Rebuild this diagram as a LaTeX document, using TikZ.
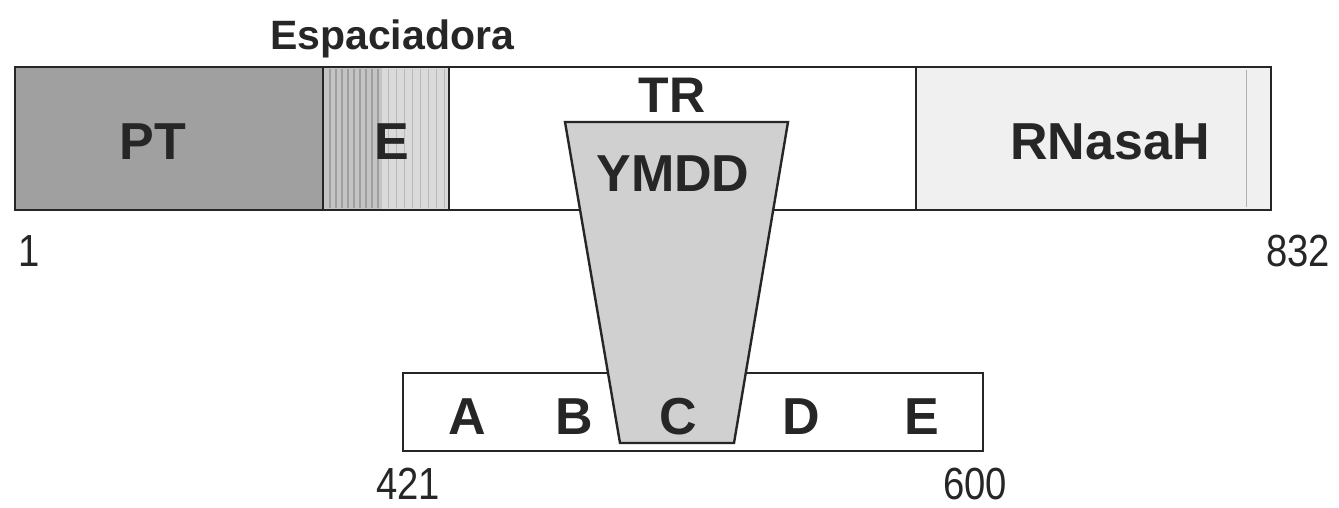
\documentclass[tikz,border=0pt]{standalone}
\usepackage{fontspec}
\setmainfont{Liberation Sans}
\definecolor{ptgray}{HTML}{A0A0A0}
\definecolor{egray}{HTML}{C4C4C4}
\definecolor{elight}{HTML}{DADADA}
\definecolor{rngray}{HTML}{F0F0F0}
\definecolor{trapgray}{HTML}{D0D0D0}
\definecolor{ink}{HTML}{262626}
\tikzset{
  box/.style={draw=ink, line width=2.4pt},
  biglabel/.style={font=\fontsize{52}{52}\selectfont\bfseries, text=ink, inner sep=0pt, anchor=base},
  numlabel/.style={font=\fontsize{45}{45}\selectfont, text=ink, inner sep=0pt, anchor=base},
}
\begin{document}
\begin{tikzpicture}[x=1pt,y=-1pt]
\useasboundingbox (0,0) rectangle (1339,508);
% main bar regions
\fill[ptgray] (15,67) rectangle (323,210);
\fill[egray] (323,67) rectangle (449,210);
\foreach \xx in {330,336,342,348,354,360,366,372,378}{
  \draw[line width=1.2pt, gray!75] (\xx,69) -- (\xx,208);
}
\fill[elight] (382,67) rectangle (449,210);
\foreach \xx in {388,396,404,412,420,428,436,444}{
  \draw[line width=0.8pt, gray!55] (\xx,69) -- (\xx,208);
}
\fill[white] (449,67) rectangle (916,210);
\fill[rngray] (916,67) rectangle (1271,210);
\draw[line width=0.8pt, gray!60] (1246,70) -- (1246,207);
\draw[box] (15,67) rectangle (1271,210);
\draw[box] (323,67) -- (323,210);
\draw[box] (449,67) -- (449,210);
\draw[box] (916,67) -- (916,210);
% lower box
\draw[box, fill=white] (403,373) rectangle (983,451);
% trapezoid
\draw[box, fill=trapgray, line join=miter] (565,122) -- (788,122) -- (734,443) -- (620,443) -- cycle;
% labels
\node[biglabel, font=\fontsize{41}{41}\selectfont\bfseries] (esp) at (392,50) {Espaciadora};
\node[biglabel] (pt) at (153,160) {PT};
\node[biglabel] (e) at (392,160) {E};
\node[biglabel, font=\fontsize{50}{50}\selectfont\bfseries] (tr) at (672,113) {TR};
\node[biglabel] (ymdd) at (673,192) {YMDD};
\node[biglabel] (rnasah) at (1110,160) {RNasaH};
\node[numlabel] (n1) at (29,266) {\scalebox{0.85}[1]{1}};
\node[numlabel] (n832) at (1298,266) {\scalebox{0.85}[1]{832}};
\node[biglabel] (la) at (467,434) {A};
\node[biglabel] (lb) at (574,434) {B};
\node[biglabel] (lc) at (678,434) {C};
\node[biglabel] (ld) at (801,434) {D};
\node[biglabel] (le) at (922,434) {E};
\node[numlabel] (n421) at (408,499) {\scalebox{0.85}[1]{421}};
\node[numlabel] (n600) at (975,499) {\scalebox{0.85}[1]{600}};
\end{tikzpicture}
\end{document}
